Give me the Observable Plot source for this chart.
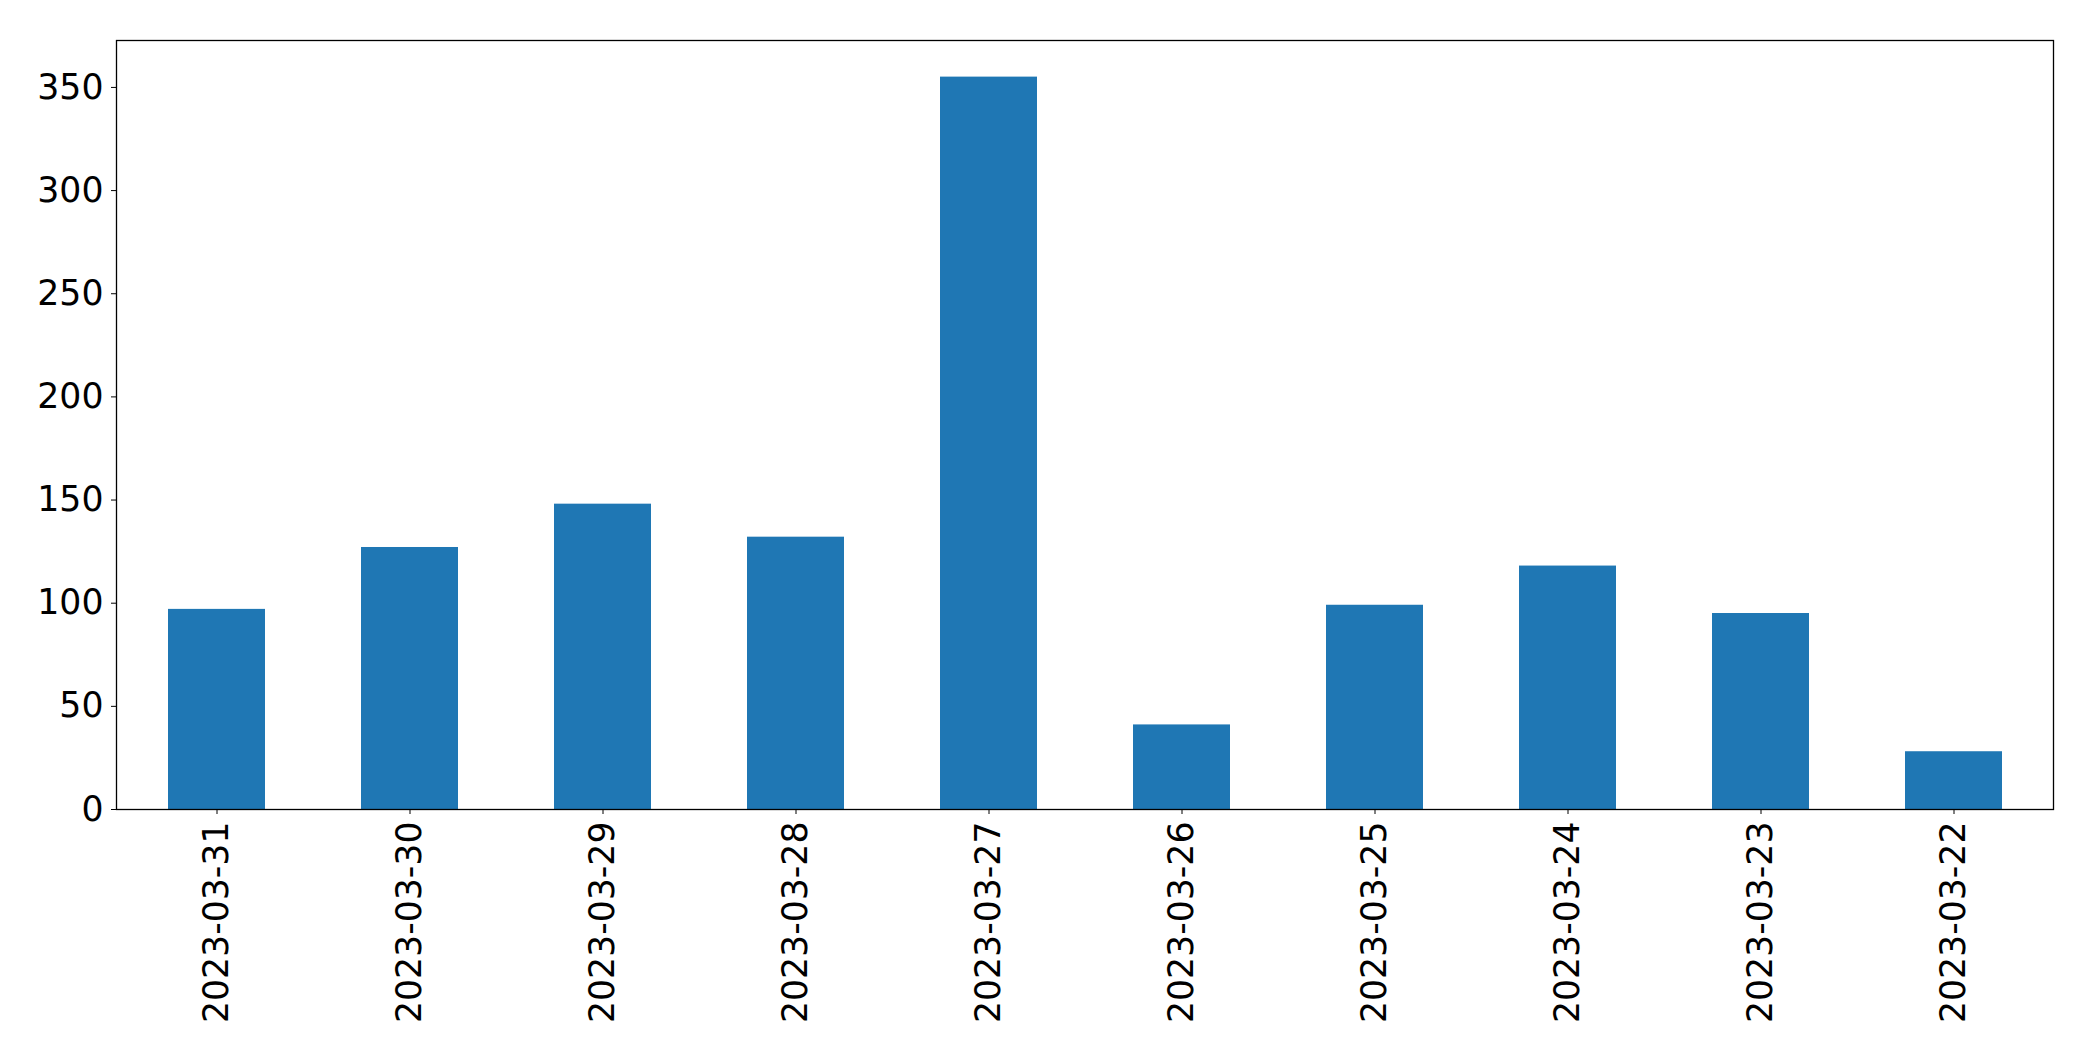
<!DOCTYPE html>
<html><head><meta charset="utf-8">
<script src="https://cdn.jsdelivr.net/npm/d3@7"></script>
<script src="https://cdn.jsdelivr.net/npm/@observablehq/plot@0.6"></script>
<style>body{margin:0;background:#fff;}</style>
</head><body><div id="chart"></div>
<script>
const dates = ["2023-03-31","2023-03-30","2023-03-29","2023-03-28","2023-03-27","2023-03-26","2023-03-25","2023-03-24","2023-03-23","2023-03-22"];
const counts = [97, 127, 148, 132, 355, 41, 99, 118, 95, 28];
const yTicks = [0, 50, 100, 150, 200, 250, 300, 350];

const data = dates.map((d, i) => ({date: d, count: counts[i]}));
const yMax = d3.max(counts) * 1.05;

const chart = Plot.plot({
  width: 2093,
  height: 1061,
  marginLeft: 116,
  marginRight: 40,
  marginTop: 40,
  marginBottom: 252,
  style: {fontFamily: "DejaVu Sans", fontSize: "34.7px", color: "black", background: "white"},
  x: {domain: dates, paddingInner: 0.5, paddingOuter: 0.25, label: null},
  y: {domain: [0, yMax], label: null},
  marks: [
    Plot.barY(data, {x: "date", y: "count", fill: "#1f77b4"}),
    Plot.frame({stroke: "black", strokeWidth: 1.3}),
    Plot.axisY({ticks: yTicks, tickSize: 5, tickPadding: 8, label: null, fontSize: 34.7}),
    Plot.axisX({tickRotate: -90, tickSize: 5, tickPadding: 7, label: null, fontSize: 34.7})
  ]
});
document.getElementById("chart").appendChild(chart);
</script>
</body></html>
